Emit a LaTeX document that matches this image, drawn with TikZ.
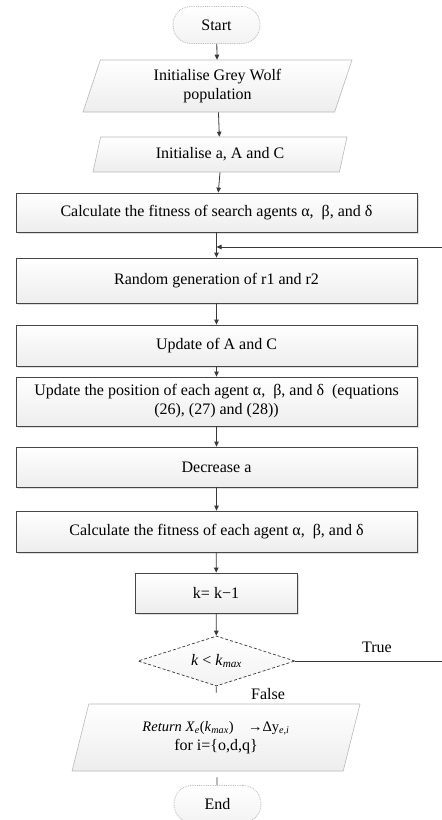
\documentclass[tikz,border=0pt]{standalone}
\usepackage{fontspec}
\setmainfont{Liberation Serif}
\usetikzlibrary{shapes.geometric,arrows.meta,shadows}

\begin{document}
\begin{tikzpicture}[x=1pt,y=-1pt,
  font=\fontsize{16}{19}\selectfont,
  line/.style={draw=gray!45!black,line width=0.8pt},
  arr/.style={line,-{Triangle[length=5pt,width=4.5pt]}},
  box/.style={draw=gray!55!black,line width=0.8pt,rectangle,top color=white,bottom color=gray!14,
    minimum width=401pt,inner sep=2pt,align=center,
    general shadow={fill=gray!25,shadow xshift=1.5pt,shadow yshift=-1.5pt}},
  iobox/.style={draw=gray!55,line width=0.6pt,trapezium,trapezium left angle=64,trapezium right angle=116,
    trapezium stretches body,top color=white,bottom color=gray!14,align=center,inner sep=1pt},
  term/.style={draw=gray!55,densely dotted,line width=0.8pt,rectangle,rounded corners=18pt,
    minimum width=87pt,minimum height=37pt,top color=white,bottom color=gray!10},
  cond/.style={draw=gray!45!black,densely dashed,line width=0.7pt,diamond,aspect=3,
    minimum width=157pt,minimum height=50pt,inner sep=0pt,top color=white,bottom color=gray!10}]
\path[use as bounding box,clip] (0,0) rectangle (442,820);

\node[term] (start) at (216.5,25) {Start};
\node[iobox,minimum width=269pt,minimum height=52pt] (pop) at (217.5,86) {Initialise Grey Wolf\\population};
\node[iobox,minimum width=254pt,minimum height=35pt] (init) at (220,154.5) {Initialise a, A and C};
\node[box,minimum height=39pt] (fit1) at (216.5,212.5) {Calculate the fitness of search agents α,\ \ β, and δ};
\node[box,minimum height=45pt] (rand) at (216.5,280.5) {Random generation of r1 and r2};
\node[box,minimum height=41pt] (upd) at (216.5,345.5) {Update of A and C};
\node[box,minimum height=49pt] (pos) at (216.5,401.5) {Update the position of each agent α,\ \ β, and δ\ \ (equations\\(26), (27) and (28))};
\node[box,minimum height=40pt] (dec) at (216.5,467) {Decrease a};
\node[box,minimum height=41pt] (fit2) at (216.5,531.5) {Calculate the fitness of each agent α,\ \ β, and δ};
\node[box,minimum width=162pt,minimum height=40pt] (k) at (216,593) {k= k−1};
\node[cond] (test) at (216.5,661) {\textit{k} < \textit{k}\textsubscript{\textit{max}}};
\node[iobox,minimum width=288pt,minimum height=67pt] (ret) at (216,737.5)
  {{\fontsize{14.5}{17}\selectfont\textit{Return X}\textsubscript{\textit{e}}(\textit{k}\textsubscript{\textit{max}})\quad→Δy\textsubscript{\textit{e,i}}}\\for i=\{o,d,q\}};
\node[term] (end) at (217.5,804) {End};

\node (true) at (377,647) {True};
\node (false) at (268,694) {False};
\coordinate (back) at (452,661);
\coordinate (join) at (216.5,247);

\path[arr] (start) -- (pop);
\path[arr] (pop) -- (init);
\path[arr] (init.south) -- (fit1);
\path[arr] (fit1) -- (rand);
\path[arr] (rand) -- (upd);
\path[arr] (upd) -- (pos);
\path[arr] (pos) -- (dec);
\path[arr] (dec) -- (fit2);
\path[arr] (fit2) -- (k);
\path[arr] (k) -- (test);
\path[line,shorten >=11pt] (test) -- (ret);
\path[line,shorten <=6pt] (ret) -- (end);
\path[line] (test.east) -- (back);
\path[arr] (back) |- (join);
\end{tikzpicture}
\end{document}
